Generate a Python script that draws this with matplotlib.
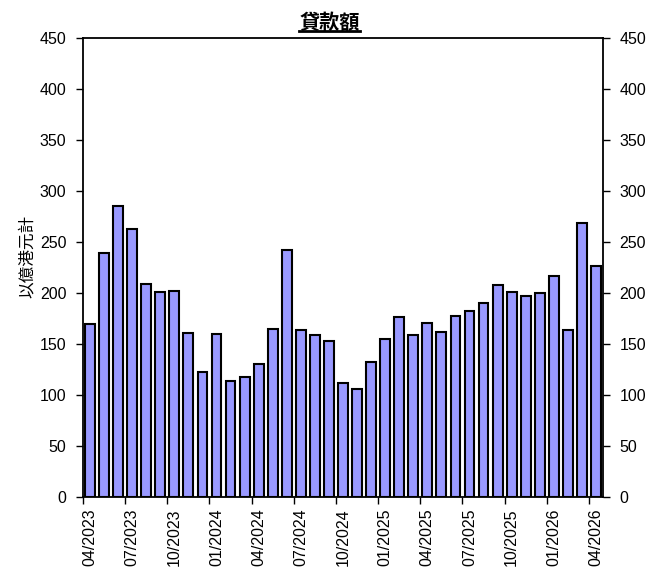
import matplotlib.pyplot as plt
from matplotlib.lines import Line2D
import numpy as np

plt.rcParams['font.family'] = ['Liberation Sans', 'Noto Sans CJK TC', 'DejaVu Sans']

# monthly loan amounts, 04/2023 .. 04/2026 (HK$100m)
months = ['04/2023', '05/2023', '06/2023', '07/2023', '08/2023', '09/2023',
          '10/2023', '11/2023', '12/2023', '01/2024', '02/2024', '03/2024',
          '04/2024', '05/2024', '06/2024', '07/2024', '08/2024', '09/2024',
          '10/2024', '11/2024', '12/2024', '01/2025', '02/2025', '03/2025',
          '04/2025', '05/2025', '06/2025', '07/2025', '08/2025', '09/2025',
          '10/2025', '11/2025', '12/2025', '01/2026', '02/2026', '03/2026',
          '04/2026']
values = [170, 239, 285, 263, 209, 201, 202, 161, 123, 160, 114, 118,
          130, 165, 242, 164, 159, 153, 112, 106, 132, 155, 176, 159,
          171, 162, 177, 182, 190, 208, 201, 197, 200, 217, 164, 269,
          226]
title = '貸款額'
ylabel = '以億港元計'

fig = plt.figure(figsize=(6.59, 5.69), dpi=100)
ax = fig.add_axes([83 / 659, 1 - 497 / 569, 520 / 659, 459 / 569])

x = np.arange(len(values))
ax.bar(x, values, width=0.7, color='#9999ff', edgecolor='black', linewidth=1.5)

ax.set_xlim(-0.5, len(values) - 0.5)
ax.set_ylim(0, 450)
ax.set_yticks(np.arange(0, 451, 50))

# ticks at category boundaries, labels at category centres
lab_idx = x[::3]
ax.set_xticks(lab_idx - 0.5)
ax.set_xticklabels([])
ax.set_xticks(lab_idx, minor=True)
ax.set_xticklabels([months[i] for i in lab_idx], minor=True, rotation=90, fontsize=11.5)
ax.tick_params(axis='x', which='minor', length=0, pad=8)
ax.tick_params(axis='x', which='major', direction='out', length=5, width=1)
ax.tick_params(axis='y', direction='out', length=5, width=1, labelsize=11.5,
               right=True, labelright=True, pad=7)

for s in ax.spines.values():
    s.set_linewidth(1.3)

ax.set_ylabel(ylabel, fontsize=12, family=['Noto Sans CJK TC', 'DejaVu Sans'])
ax.yaxis.set_label_coords(-0.09, 0.525)

t = fig.text(0.5, 1 - 22 / 569, title, ha='center', va='center',
             fontsize=14.5, fontweight='bold', family=['Noto Sans CJK TC', 'DejaVu Sans'])
fig.canvas.draw()
bb = t.get_window_extent().transformed(fig.transFigure.inverted())
fig.add_artist(Line2D([bb.x0, bb.x1], [bb.y0 + 0.003, bb.y0 + 0.003], color='black',
                      linewidth=2, transform=fig.transFigure))

fig.savefig('out.png', dpi=100)
